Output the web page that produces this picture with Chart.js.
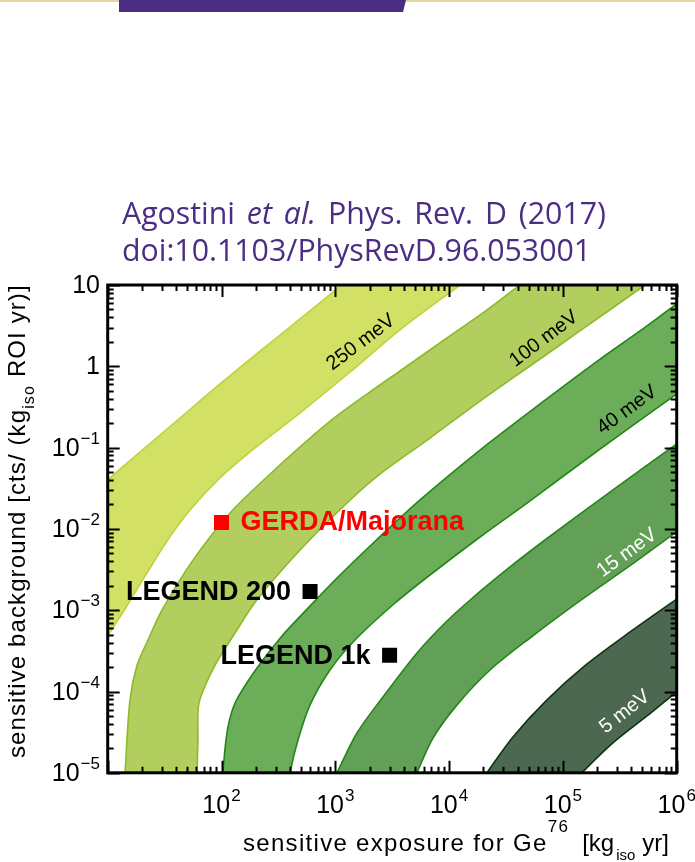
<!DOCTYPE html>
<html>
<head>
<meta charset="utf-8">
<script src="https://cdn.jsdelivr.net/npm/chart.js@4.4.1/dist/chart.umd.min.js"></script>
<style>
  html, body { margin: 0; padding: 0; background: #fff; }
  body { width: 695px; height: 862px; position: relative; overflow: hidden; }
  #plot { position: absolute; left: 0; top: 0; }
  #topline { position: absolute; left: 0; top: 0; width: 695px; height: 2px; background: #e5d4a1; }
  #tab { position: absolute; left: 119px; top: 0; width: 287px; height: 12px; background: #4b2e83;
         clip-path: polygon(0 0, 100% 0, calc(100% - 3px) 100%, 0 100%); }
  #ref { position: absolute; left: 122px; top: 194px; font-family: "Open Sans", sans-serif;
         font-size: 30.3px; line-height: 37px; word-spacing: 4px; color: #4b2e83; white-space: nowrap; }
</style>
</head>
<body>
<canvas id="plot" width="695" height="862"></canvas>
<div id="topline"></div>
<div id="tab"></div>
<div id="ref">Agostini <i>et al.</i> Phys. Rev. D (2017)<br>doi:10.1103/PhysRevD.96.053001</div>
<script>
// edges of the sensitivity bands: [exposure kg yr, background cts/(kg ROI yr)]
// "Left" runs along the upper-left edge, "Right" along the lower-right edge
const band250Left  = [[7.7, 0.0292], [10, 0.040], [19.2, 0.0883], [43.2, 0.231], [97, 0.606], [218, 1.54],
                      [490, 3.82], [1100, 9.72], [1580, 14.9]];
const band250Right = [[8.6, 3.33e-4], [10, 4.82e-4], [14.2, 1.035e-3], [21.3, 2.63e-3], [33.2, 7.1e-3],
                      [52.9, 0.0171], [97, 0.0423], [197, 0.0989], [490, 0.267], [1350, 0.851],
                      [3700, 2.8], [12500, 10], [19500, 15.7]];
const band100Left  = [[13.9, 6.1e-6], [14.2, 1e-5], [15.7, 7.9e-5], [18.1, 2.1e-4], [22.6, 4.3e-4], [30, 1.0e-3],
                      [56, 4.1e-3], [121, 0.0161], [251, 0.0435], [490, 0.102], [954, 0.225], [1900, 0.456],
                      [3700, 0.876], [9580, 2.23], [18700, 4.28], [42000, 10], [64200, 15.3]];
const band100Right = [[61, 6.1e-6], [61, 1e-5], [62.1, 2.53e-5], [63.4, 7.2e-5], [86, 2.0e-4], [131, 5.2e-4],
                      [205, 1.34e-3], [490, 5.5e-3], [1350, 0.0227], [2470, 0.0473], [6790, 0.131],
                      [18700, 0.374], [62900, 1.23], [141000, 2.72], [527000, 10], [805000, 15.3]];
const band40Left   = [[101, 6.1e-6], [103, 1e-5], [109.5, 2.53e-5], [118.8, 4.72e-5], [137, 8.09e-5],
                      [205, 1.95e-4], [340, 4.82e-4], [576, 1.06e-3], [994, 2.35e-3], [2020, 6.16e-3],
                      [5550, 0.0227], [18700, 0.0934], [62900, 0.344], [208000, 1.2], [476000, 2.72],
                      [1.0e6, 5.84], [1.6e6, 9.19]];
const band40Right  = [[384, 6.1e-6], [400, 1e-5], [470, 2.53e-5], [599, 6.8e-5], [898, 1.84e-4], [1490, 4.3e-4],
                      [3350, 1.226e-3], [6790, 2.71e-3], [18700, 7.95e-3], [48400, 0.0208], [212000, 0.0961],
                      [1.03e6, 0.47], [1.6e6, 0.74]];
const band15Left   = [[880, 6.1e-6], [1035, 1e-5], [1550, 3.09e-5], [2630, 8.6e-5], [5220, 2.98e-4],
                      [9200, 6.96e-4], [15300, 1.335e-3], [34300, 3.4e-3], [69600, 7.3e-3], [259000, 0.0284],
                      [1.03e6, 0.114], [1.6e6, 0.179]];
const band15Right  = [[4530, 6.1e-6], [5220, 1e-5], [7220, 2.68e-5], [11700, 6.8e-5], [22900, 1.84e-4],
                      [51400, 4.55e-4], [141000, 1.3e-3], [397000, 3.6e-3], [909000, 8.4e-3], [1.6e6, 0.0148]];
const band5Left    = [[16900, 6.1e-6], [21500, 1e-5], [36400, 2.76e-5], [72500, 7.9e-5], [163000, 2.18e-4],
                      [389000, 5.4e-4], [1.0e6, 1.37e-3], [1.6e6, 2.16e-3]];
const band5Right   = [[106500, 6.1e-6], [147000, 1e-5], [275000, 2.33e-5], [548000, 5.0e-5],
                      [1.0e6, 9.9e-5], [1.6e6, 1.6e-4]];

const bandNames = ['250 meV', '100 meV', '40 meV', '15 meV', '5 meV'];
const bandLeft = [band250Left, band100Left, band40Left, band15Left, band5Left];
const bandRight = [band250Right, band100Right, band40Right, band15Right, band5Right];
// where each band's name sits (exposure, background)
const bandLabelAt = [[1680, 1.97], [68200, 2.17], [366000, 0.29], [366000, 5.05e-3], [351000, 5.6e-5]];

const expNames = ['GERDA/Majorana', 'LEGEND 200', 'LEGEND 1k'];
const expExposure = [100, 600, 3000];
const expBackground = [0.012, 1.7e-3, 2.8e-4];

const xDecades = [2, 3, 4, 5, 6];
const yDecades = [1, 0, -1, -2, -3, -4, -5];

const bandFill = ['#d3e066', '#b1ce5f', '#6cad5a', '#63a057', '#4d6850'];
const bandEdge = ['#bcd43a', '#8cba2a', '#26861a', '#26861a', '#103410'];
const bandTextColor = ['#000', '#000', '#000', '#fff', '#fff'];
const bandTextAngle = [37, 37, 36, 36, 38];
const expColors = ['#ff0000', '#000000', '#000000'];

const FONT = '"Liberation Sans", Arial, Helvetica, sans-serif';

const datasets = bandNames.map((name, i) => ({
    label: name,
    // one closed outline per band: up the left edge, back down the right edge
    data: bandLeft[i].concat(bandRight[i].slice().reverse()).map(([x, y]) => ({x: x, y: y})),
    showLine: true,
    fill: 'shape',
    backgroundColor: bandFill[i],
    borderColor: bandEdge[i],
    borderWidth: 1.6,
    pointRadius: 0,
    tension: 0.3,
    clip: 0
}));

// markers go on top of the bands
datasets.push({
    label: 'experiments',
    order: -1,
    data: expExposure.map((x, i) => ({x: x, y: expBackground[i]})),
    showLine: false,
    pointStyle: 'rect',
    pointRadius: 10.6,
    pointBorderWidth: 0,
    backgroundColor: expColors,
    borderColor: expColors
});

function drawPower(ctx, e, x, y, align) {
    // "10" with a raised exponent; 10^0 and 10^1 are written plainly
    const base = e === 0 ? '1' : '10';
    const sup = (e === 0 || e === 1) ? '' : String(e).replace('-', '\u2212');
    ctx.font = '25px ' + FONT;
    const wb = ctx.measureText(base).width;
    ctx.font = '17px ' + FONT;
    const ws = sup ? ctx.measureText(sup).width + 1 : 0;
    const total = wb + ws;
    const sx = align === 'center' ? x - total / 2 : x - total;
    ctx.textAlign = 'left';
    ctx.font = '25px ' + FONT;
    ctx.fillText(base, sx, y);
    if (sup) {
        ctx.font = '17px ' + FONT;
        ctx.fillText(sup, sx + wb + 1, y - 12);
    }
}

const decorations = {
    id: 'decorations',
    afterDatasetsDraw(chart) {
        const ctx = chart.ctx;
        const xs = chart.scales.x, ys = chart.scales.y;
        ctx.save();
        ctx.font = '20px ' + FONT;
        ctx.textAlign = 'center';
        ctx.textBaseline = 'middle';
        bandNames.forEach((name, i) => {
            ctx.save();
            ctx.translate(xs.getPixelForValue(bandLabelAt[i][0]), ys.getPixelForValue(bandLabelAt[i][1]));
            ctx.rotate(-bandTextAngle[i] * Math.PI / 180);
            ctx.fillStyle = bandTextColor[i];
            ctx.fillText(name, 0, 0);
            ctx.restore();
        });
        ctx.font = 'bold 27px ' + FONT;
        ctx.textBaseline = 'alphabetic';
        expNames.forEach((name, i) => {
            const px = xs.getPixelForValue(expExposure[i]);
            const py = ys.getPixelForValue(expBackground[i]);
            ctx.fillStyle = expColors[i];
            if (i === 0) {
                ctx.textAlign = 'left';
                ctx.fillText(name, px + 19, py + 8);
            } else {
                ctx.textAlign = 'right';
                ctx.fillText(name, px - 19, py + 9);
            }
        });
        ctx.restore();
    },
    afterDraw(chart) {
        const ctx = chart.ctx;
        const xs = chart.scales.x, ys = chart.scales.y;
        const {left, right, top, bottom} = chart.chartArea;
        ctx.save();
        ctx.strokeStyle = '#000';
        ctx.fillStyle = '#000';

        // inward ticks on all four sides
        ctx.lineWidth = 2;
        ctx.beginPath();
        for (let d = 1; d <= 6; d++) {
            for (let k = 1; k <= 9; k++) {
                const v = k * Math.pow(10, d);
                if (v > 1e6 * 1.0001) break;
                const px = Math.round(xs.getPixelForValue(v)) + 0.5;
                const len = k === 1 ? 12 : 6;
                ctx.moveTo(px, bottom); ctx.lineTo(px, bottom - len);
                ctx.moveTo(px, top); ctx.lineTo(px, top + len);
            }
        }
        for (let d = -5; d <= 1; d++) {
            for (let k = 1; k <= 9; k++) {
                const v = k * Math.pow(10, d);
                if (v > 10 * 1.0001) break;
                const py = Math.round(ys.getPixelForValue(v)) + 0.5;
                const len = k === 1 ? 12 : 6;
                ctx.moveTo(left, py); ctx.lineTo(left + len, py);
                ctx.moveTo(right, py); ctx.lineTo(right - len, py);
            }
        }
        ctx.stroke();

        ctx.lineWidth = 3;
        ctx.strokeRect(left, top, right - left, bottom - top);

        // tick labels
        ctx.textBaseline = 'alphabetic';
        xDecades.forEach(e => drawPower(ctx, e, xs.getPixelForValue(Math.pow(10, e)), 813, 'center'));
        yDecades.forEach(e => drawPower(ctx, e, 100, ys.getPixelForValue(Math.pow(10, e)) + 8, 'right'));

        // axis titles
        ctx.textAlign = 'left';
        ctx.letterSpacing = '1.3px';
        let cx = 243;
        const xb = 851;
        ctx.font = '24px ' + FONT;
        ctx.fillText('sensitive exposure for Ge', cx, xb);
        cx += ctx.measureText('sensitive exposure for Ge').width;
        ctx.font = '17px ' + FONT;
        ctx.fillText('76', cx, xb - 19);
        cx += ctx.measureText('76').width + 13;
        ctx.letterSpacing = '0px';
        ctx.font = '24px ' + FONT;
        ctx.fillText('[kg', cx, xb);
        cx += ctx.measureText('[kg').width + 2;
        ctx.font = '15px ' + FONT;
        ctx.fillText('iso', cx, xb + 9);
        cx += ctx.measureText('iso').width + 7;
        ctx.font = '24px ' + FONT;
        ctx.fillText('yr]', cx, xb);

        ctx.letterSpacing = '1.1px';
        ctx.translate(25, 758);
        ctx.rotate(-Math.PI / 2);
        let cy = 0;
        ctx.font = '24px ' + FONT;
        ctx.fillText('sensitive background [cts/ (kg', cy, 0);
        cy += ctx.measureText('sensitive background [cts/ (kg').width;
        ctx.font = '16px ' + FONT;
        ctx.fillText('iso', cy, 9);
        cy += ctx.measureText('iso').width + 8;
        ctx.font = '24px ' + FONT;
        ctx.fillText('ROI yr)]', cy, 0);
        ctx.restore();
    }
};

new Chart(document.getElementById('plot'), {
    type: 'scatter',
    data: {datasets: datasets},
    options: {
        responsive: false,
        animation: false,
        devicePixelRatio: 1,
        layout: {padding: {left: 107.7, top: 285, right: 18.3, bottom: 89.2}},
        elements: {line: {capBezierPoints: false}},
        plugins: {legend: {display: false}, tooltip: {enabled: false}},
        scales: {
            x: {type: 'logarithmic', min: 10, max: 1e6, display: false},
            y: {type: 'logarithmic', min: 1e-5, max: 10, display: false}
        }
    },
    plugins: [decorations]
});
</script>
</body>
</html>
